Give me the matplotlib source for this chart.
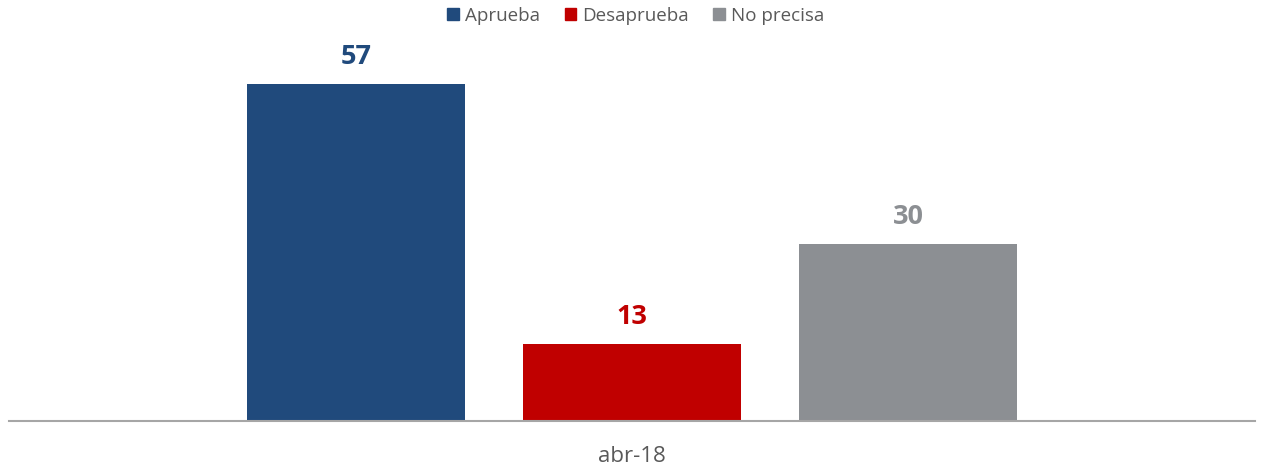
import matplotlib
matplotlib.use("Agg")
import matplotlib.pyplot as plt
from matplotlib.patches import Patch

categories = ["abr-18"]
series_names = ["Aprueba", "Desaprueba", "No precisa"]
values = [57, 13, 30]
colors = ["#204A7C", "#C00000", "#8C8F93"]

plt.rcParams['font.family'] = ['Open Sans', 'DejaVu Sans']

fig = plt.figure(figsize=(12.62, 4.70), dpi=100)
ax = fig.add_axes([9/1262, 49/470, 1246/1262, 381/470])

px = 5.91  # pixels per unit
bar_w = 218/1246
step = 276/1246
for i, (name, v, c) in enumerate(zip(series_names, values, colors)):
    x = (i - 1) * step
    ax.bar(x, v, width=bar_w, color=c, label=name, zorder=2)
    ax.text(x, v + 20/px, f"{v}", ha="center", va="baseline", fontsize=19.5,
            fontweight="bold", color=c)

ax.set_xlim(-0.5, 0.5)
ax.set_ylim(0, 381/px)
for s in ["top", "right", "left"]:
    ax.spines[s].set_visible(False)
ax.spines["bottom"].set_color("#A6A6A6")
ax.spines["bottom"].set_linewidth(1.5)
ax.set_yticks([])
ax.set_xticks([0.0])
ax.set_xticklabels(categories, fontsize=16, color="#595959")
ax.tick_params(axis="x", length=0, pad=18)

handles = [Patch(facecolor=c, edgecolor=c) for c in colors]
fig.legend(handles, series_names, loc="center", bbox_to_anchor=(636/1262, 1 - 16/470),
           ncol=3, frameon=False, fontsize=13.5, labelcolor="#595959",
           handlelength=0.6, handleheight=0.6, handletextpad=0.35, columnspacing=1.3)

fig.savefig("out.png", dpi=100)
